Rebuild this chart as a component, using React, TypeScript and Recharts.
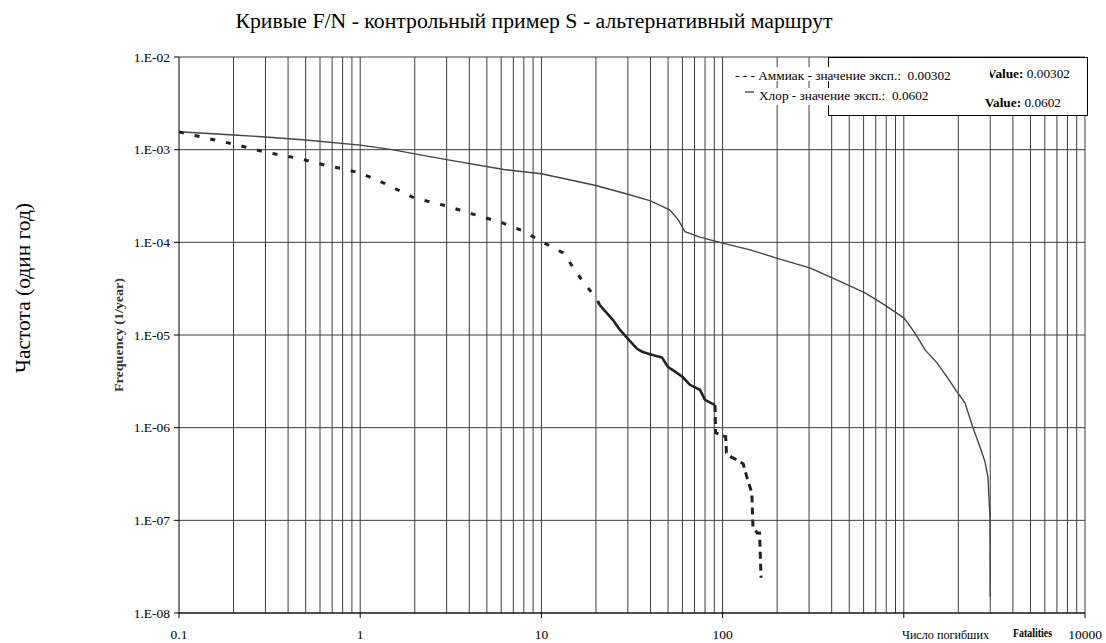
import React from 'react';
import { LineChart, Line, XAxis, YAxis, CartesianGrid, ReferenceLine } from 'recharts';

// ---- axis ticks ----
const xTicks = [0.1, 1, 10, 100, 1000, 10000];
const xTickLabels = ['0.1', '1', '10', '100', '', '10000'];
const yTicks = [1e-8, 1e-7, 1e-6, 1e-5, 1e-4, 1e-3, 1e-2];
const yTickLabels = ['1.E-08', '1.E-07', '1.E-06', '1.E-05', '1.E-04', '1.E-03', '1.E-02'];

// vertical grid (log minor lines)
const xGridValues = [
  0.2, 0.3, 0.4, 0.5, 0.6, 0.7, 0.8, 0.9,
  1, 2, 3, 4, 5, 6, 7, 8, 9,
  10, 20, 30, 40, 50, 60, 70, 80, 90,
  100, 200, 300, 400, 500, 600, 700, 800, 900,
  1000, 2000, 3000, 4000, 5000, 6000, 7000, 8000, 9000,
  10000,
];

// ---- series: Ammonia (dashed) ----
const ammoniaUpper = [
  { n: 0.1, f: 1.55e-3 },
  { n: 0.2, f: 1.15e-3 },
  { n: 0.3, f: 9.4e-4 },
  { n: 0.45, f: 8.1e-4 },
  { n: 0.66, f: 6.7e-4 },
  { n: 0.8, f: 6.2e-4 },
  { n: 1.0, f: 5.6e-4 },
  { n: 1.37, f: 4.3e-4 },
  { n: 2.0, f: 3.0e-4 },
  { n: 3.0, f: 2.47e-4 },
  { n: 4.0, f: 2.07e-4 },
  { n: 6.1, f: 1.62e-4 },
  { n: 7.9, f: 1.33e-4 },
  { n: 10.2, f: 1.0e-4 },
  { n: 13.2, f: 7.7e-5 },
  { n: 16.3, f: 4.2e-5 },
  { n: 20.3, f: 2.4e-5 },
  { n: 21, f: 2.1e-5 },
];
const ammoniaMiddle = [
  { n: 21, f: 2.1e-5 },
  { n: 24.8, f: 1.46e-5 },
  { n: 27, f: 1.15e-5 },
  { n: 29.7, f: 9.3e-6 },
  { n: 33.7, f: 7.1e-6 },
  { n: 36, f: 6.6e-6 },
  { n: 39.7, f: 6.2e-6 },
  { n: 46.3, f: 5.7e-6 },
  { n: 50, f: 4.5e-6 },
  { n: 55, f: 4.0e-6 },
  { n: 60.4, f: 3.5e-6 },
  { n: 66, f: 2.9e-6 },
  { n: 75, f: 2.56e-6 },
  { n: 80, f: 2.0e-6 },
  { n: 86, f: 1.85e-6 },
  { n: 90.8, f: 1.76e-6 },
];
const ammoniaTail = [
  { n: 90.8, f: 1.76e-6 },
  { n: 91.5, f: 8.8e-7 },
  { n: 100, f: 8.2e-7 },
  { n: 104, f: 8.0e-7 },
  { n: 105, f: 5.35e-7 },
  { n: 112, f: 4.8e-7 },
  { n: 120, f: 4.5e-7 },
  { n: 130, f: 4.07e-7 },
  { n: 136, f: 2.94e-7 },
  { n: 145, f: 1.98e-7 },
  { n: 147, f: 8.5e-8 },
  { n: 155, f: 7.3e-8 },
  { n: 160, f: 7.3e-8 },
  { n: 163, f: 2.4e-8 },
];

// ---- series: Chlorine (solid) ----
const chlorine = [
  { n: 0.1, f: 1.56e-3 },
  { n: 0.2, f: 1.44e-3 },
  { n: 0.3, f: 1.37e-3 },
  { n: 0.5, f: 1.27e-3 },
  { n: 1.0, f: 1.12e-3 },
  { n: 1.5, f: 1.0e-3 },
  { n: 2.0, f: 9.0e-4 },
  { n: 3.0, f: 7.8e-4 },
  { n: 6.2, f: 6.1e-4 },
  { n: 10, f: 5.5e-4 },
  { n: 20, f: 4.1e-4 },
  { n: 30, f: 3.3e-4 },
  { n: 40, f: 2.8e-4 },
  { n: 51, f: 2.24e-4 },
  { n: 57, f: 1.75e-4 },
  { n: 62, f: 1.3e-4 },
  { n: 75, f: 1.14e-4 },
  { n: 100, f: 9.8e-5 },
  { n: 142, f: 8.3e-5 },
  { n: 207, f: 6.6e-5 },
  { n: 303, f: 5.3e-5 },
  { n: 445, f: 3.8e-5 },
  { n: 611, f: 2.85e-5 },
  { n: 787, f: 2.1e-5 },
  { n: 1000, f: 1.53e-5 },
  { n: 1153, f: 1.05e-5 },
  { n: 1310, f: 6.9e-6 },
  { n: 1524, f: 5.0e-6 },
  { n: 1730, f: 3.53e-6 },
  { n: 1966, f: 2.43e-6 },
  { n: 2176, f: 1.85e-6 },
  { n: 2409, f: 1.0e-6 },
  { n: 2633, f: 6.2e-7 },
  { n: 2805, f: 4.3e-7 },
  { n: 2915, f: 2.9e-7 },
  { n: 2950, f: 1.8e-7 },
  { n: 2990, f: 1.1e-7 },
  { n: 3000, f: 1.5e-8 },
];

// ---- texts ----
const title = 'Кривые F/N - контрольный пример S - альтернативный маршрут';
const yLabelRu = 'Частота (один год)';
const yLabelEn = 'Frequency (1/year)';
const xLabelRu = 'Число погибших';
const xLabelEn = 'Fatalities';
const legendAmmonia = 'Аммиак - значение эксп.:  0.00302';
const legendChlorine = 'Хлор - значение эксп.:  0.0602';
const boxValue1 = '0.00302';
const boxValue2 = '0.0602';

const SERIF = '"Liberation Serif", "Times New Roman", serif';
const GRID = '#3c3c3c';

const fmtX = (v: number) => {
  const i = xTicks.findIndex((t) => Math.abs(Math.log10(t) - Math.log10(v)) < 1e-6);
  return i >= 0 ? xTickLabels[i] : '';
};
const fmtY = (v: number) => {
  const i = yTicks.findIndex((t) => Math.abs(Math.log10(t) - Math.log10(v)) < 1e-6);
  return i >= 0 ? yTickLabels[i] : '';
};

export default function App() {
  return (
    <div style={{ position: 'absolute', left: 0, top: 0, width: 1106, height: 643, background: '#fff' }}>
      <LineChart width={1106} height={643} margin={{ top: 57, right: 21, bottom: 0, left: 119 }}>
        <CartesianGrid vertical={false} stroke={GRID} strokeWidth={1} />
        {xGridValues.map((v) => (
          <ReferenceLine key={v} x={v} stroke={GRID} strokeWidth={1} />
        ))}
        <XAxis
          type="number"
          dataKey="n"
          scale="log"
          domain={[0.1, 10000]}
          allowDataOverflow
          ticks={xTicks}
          tickFormatter={fmtX}
          height={30}
          tickSize={5}
          tickMargin={11}
          axisLine={{ stroke: '#000' }}
          tickLine={{ stroke: '#000' }}
          tick={{ fontFamily: SERIF, fontSize: 13.5, fill: '#000' }}
          interval={0}
        />
        <YAxis
          type="number"
          dataKey="f"
          scale="log"
          domain={[1e-8, 1e-2]}
          allowDataOverflow
          ticks={yTicks}
          tickFormatter={fmtY}
          width={60}
          tickSize={5}
          tickMargin={4}
          axisLine={{ stroke: '#000' }}
          tickLine={{ stroke: '#000' }}
          tick={{ fontFamily: SERIF, fontSize: 13.5, fill: '#000' }}
          interval={0}
        />
        <Line
          data={chlorine}
          dataKey="f"
          type="linear"
          stroke="#444"
          strokeWidth={1.4}
          dot={false}
          activeDot={false}
          isAnimationActive={false}
        />
        <Line
          data={ammoniaUpper}
          dataKey="f"
          type="linear"
          stroke="#222"
          strokeWidth={3}
          strokeDasharray="5 11"
          dot={false}
          activeDot={false}
          isAnimationActive={false}
        />
        <Line
          data={ammoniaMiddle}
          dataKey="f"
          type="linear"
          stroke="#222"
          strokeWidth={2.6}
          dot={false}
          activeDot={false}
          isAnimationActive={false}
        />
        <Line
          data={ammoniaTail}
          dataKey="f"
          type="linear"
          stroke="#222"
          strokeWidth={3}
          strokeDasharray="7 5"
          dot={false}
          activeDot={false}
          isAnimationActive={false}
        />
      </LineChart>

      <svg
        width={1106}
        height={643}
        style={{ position: 'absolute', left: 0, top: 0, pointerEvents: 'none' }}
      >
        {/* title */}
        <text
          x={534}
          y={21}
          textAnchor="middle"
          dominantBaseline="central"
          fontFamily={SERIF}
          fontSize={20}
          textLength={597}
          lengthAdjust="spacingAndGlyphs"
          fill="#000"
        >
          {title}
        </text>

        {/* outer Russian y label */}
        <text
          transform="translate(23,288) rotate(-90)"
          textAnchor="middle"
          dominantBaseline="central"
          fontFamily={SERIF}
          fontSize={20}
          textLength={170}
          lengthAdjust="spacingAndGlyphs"
          fill="#000"
        >
          {yLabelRu}
        </text>

        {/* English y label */}
        <text
          transform="translate(118,335) rotate(-90)"
          textAnchor="middle"
          dominantBaseline="central"
          fontFamily={SERIF}
          fontSize={13}
          fontWeight="bold"
          textLength={114}
          lengthAdjust="spacingAndGlyphs"
          fill="#333"
        >
          {yLabelEn}
        </text>

        {/* x labels */}
        <text
          x={902}
          y={634}
          dominantBaseline="central"
          fontFamily={SERIF}
          fontSize={13}
          textLength={87}
          lengthAdjust="spacingAndGlyphs"
          fill="#000"
        >
          {xLabelRu}
        </text>
        <text
          x={1013}
          y={633}
          dominantBaseline="central"
          fontFamily={SERIF}
          fontSize={12}
          fontWeight="bold"
          textLength={39}
          lengthAdjust="spacingAndGlyphs"
          fill="#000"
        >
          {xLabelEn}
        </text>

        {/* legend box (English) */}
        <rect x={828.5} y={57.5} width={259} height={58} fill="#fff" stroke="#000" strokeWidth={1} />
        <text x={1070} y={73} textAnchor="end" dominantBaseline="central" fontFamily={SERIF} fontSize={13.3} fill="#000">
          <tspan fontWeight="bold">Value:</tspan> {boxValue1}
        </text>
        <text x={1061} y={102} textAnchor="end" dominantBaseline="central" fontFamily={SERIF} fontSize={13.3} fill="#000">
          <tspan fontWeight="bold">Value:</tspan> {boxValue2}
        </text>

        {/* Russian legend with white strips */}
        <rect x={733} y={67} width={257} height={14} fill="#fff" />
        <rect x={733} y={88} width={238} height={17} fill="#fff" />
        <text
          x={735}
          y={75}
          dominantBaseline="central"
          fontFamily={SERIF}
          fontSize={13.3}
          fill="#000"
          style={{ whiteSpace: 'pre' }}
        >
          {'- - - ' + legendAmmonia}
        </text>
        <line x1={745} y1={92} x2={754} y2={92} stroke="#000" strokeWidth={1} />
        <text
          x={759}
          y={95}
          dominantBaseline="central"
          fontFamily={SERIF}
          fontSize={13.3}
          fill="#000"
          style={{ whiteSpace: 'pre' }}
        >
          {legendChlorine}
        </text>
      </svg>
    </div>
  );
}
